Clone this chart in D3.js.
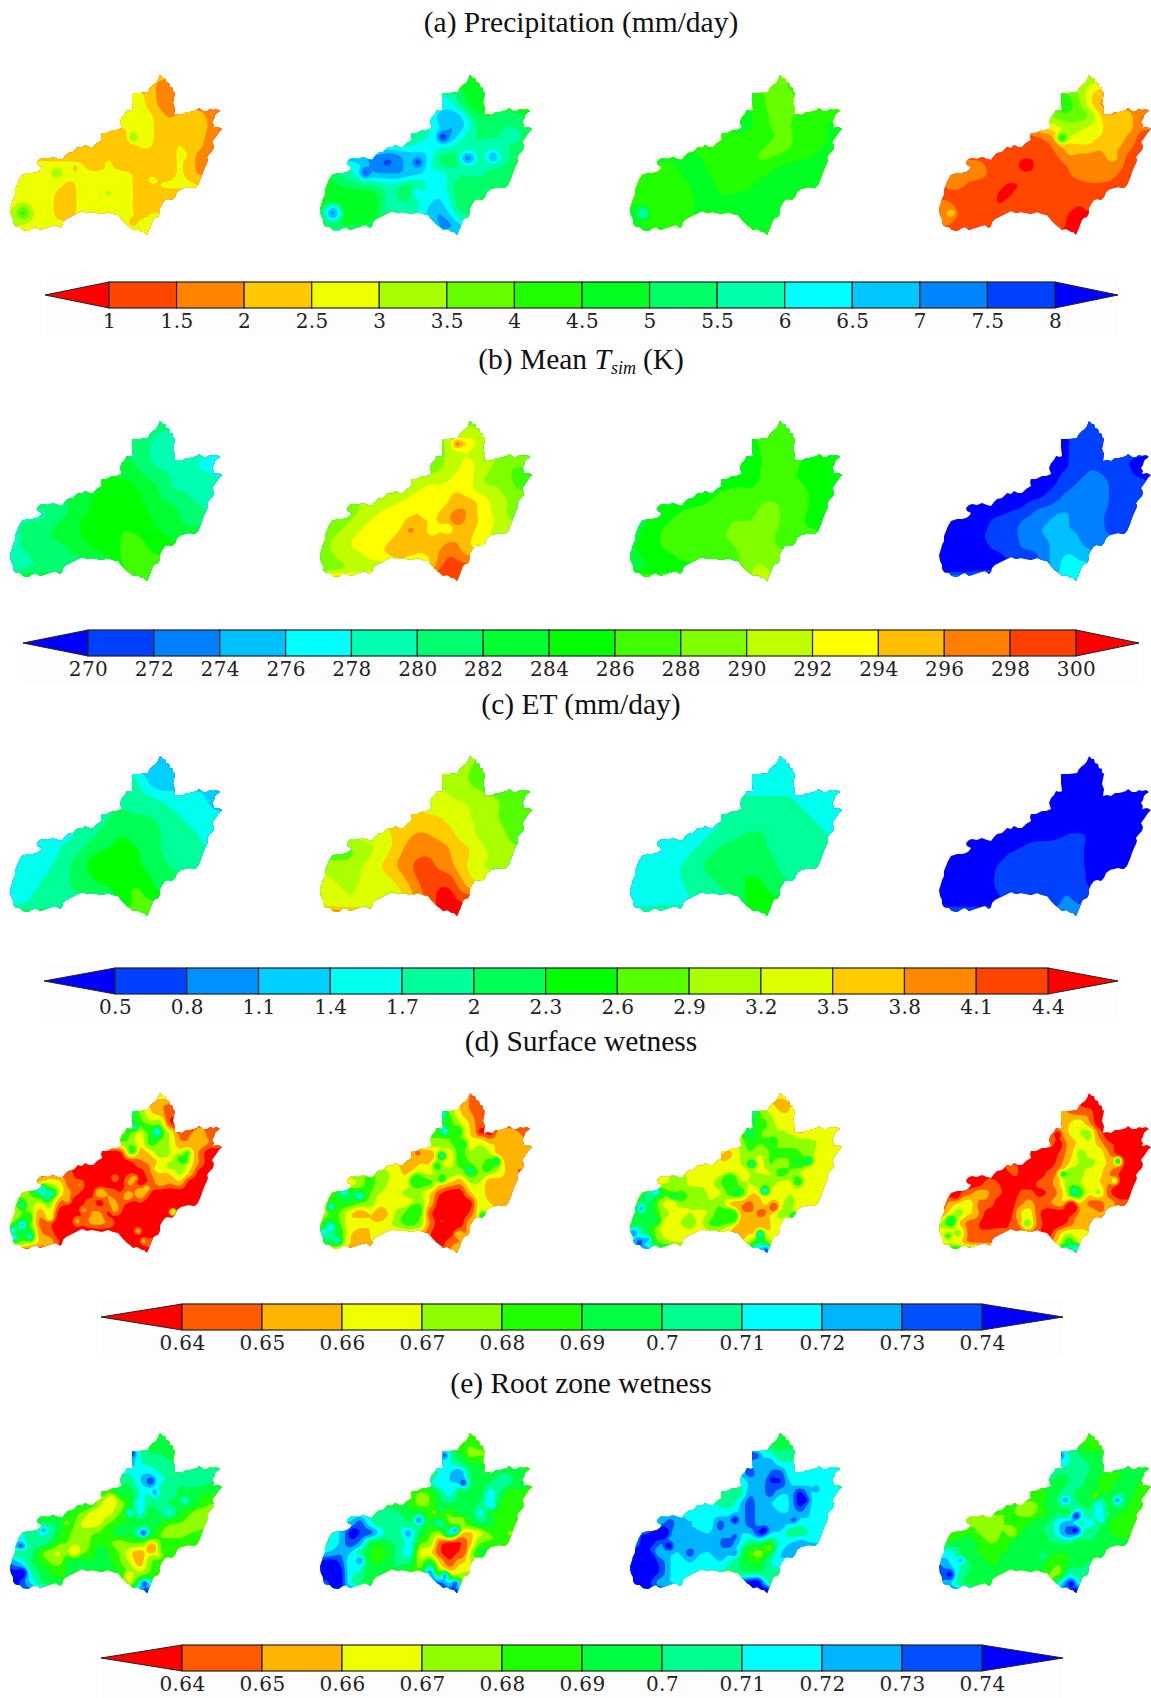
<!DOCTYPE html>
<html>
<head>
<meta charset="utf-8">
<script src="https://cdn.jsdelivr.net/npm/d3@7"></script>
<style>
body { margin: 0; background: #fff; }
.title { font-family: "Liberation Serif", serif; font-size: 29.5px; fill: #111; text-anchor: middle; }
.bar-axis text { font-family: "DejaVu Serif", serif; font-size: 20px; fill: #222; letter-spacing: 0.4px; }
</style>
</head>
<body>
<svg id="chart" width="1151" height="1698"></svg>
<script>
// Basin boundary, map units
const basinOutline = [[150,0],[153,3],[155,3],[156,7],[159,8],[160,12],[163,13],[163,16],[165,18],[164,23],[163,28],[165,33],[164,40],[168,39],[172,40],[176,37],[180,37],[184,36],[187,35],[189,33],[193,36],[197,36],[200,34],[203,35],[207,34],[210,36],[207,38],[205,40],[204,44],[202,47],[204,50],[203,53],[208,52],[212,54],[209,57],[207,60],[205,63],[202,67],[204,71],[203,75],[200,78],[197,82],[198,85],[197,88],[195,92],[193,97],[191,103],[188,110],[185,113],[183,113],[179,112],[175,113],[171,114],[167,117],[165,122],[162,125],[158,124],[155,125],[152,129],[150,133],[150,138],[148,142],[145,143],[143,145],[140,153],[137,160],[134,157],[132,157],[127,154],[123,155],[120,152],[117,150],[113,146],[108,140],[103,139],[98,137],[92,139],[87,138],[82,137],[77,138],[72,136],[68,138],[64,140],[60,142],[56,144],[53,147],[52,151],[50,153],[46,150],[42,151],[36,153],[30,155],[26,152],[23,153],[18,156],[13,155],[10,152],[8,152],[5,151],[3,148],[3,144],[1,140],[0,134],[2,128],[3,124],[5,120],[5,115],[7,110],[9,105],[12,100],[15,99],[18,98],[23,98],[27,97],[30,95],[32,92],[28,90],[27,87],[30,84],[33,83],[38,84],[43,82],[48,84],[52,85],[55,81],[58,78],[63,77],[68,72],[72,73],[75,70],[79,72],[83,72],[87,68],[92,65],[91,61],[92,58],[97,58],[103,55],[107,55],[112,53],[110,47],[112,42],[115,39],[117,35],[121,36],[123,35],[122,27],[122,18],[130,18],[138,17],[140,13],[143,10],[146,8],[148,5]];

// First grid column of each row (grid step is 10 map units)
const rowStart = [14,14,12,12,11,11,9,8,6,3,1,0,0,0,0,0,13];

// Colour bars
const precipTicks = [1,1.5,2,2.5,3,3.5,4,4.5,5,5.5,6,6.5,7,7.5,8];
const precipColors = ["#ff0000","#ff4600","#ff8500","#ffc800","#eeff00","#a8ff00","#66ff00","#20ff00","#00ff20","#00ff66","#00ffaa","#00ffff","#00c8ff","#0085ff","#0040ff","#0000ff"];
const tsimTicks = [270,272,274,276,278,280,282,284,286,288,290,292,294,296,298,300];
const tsimColors = ["#0000ff","#0040ff","#0080ff","#00bfff","#00ffff","#00ffb0","#00ff70","#00ff30","#00ff00","#40ff00","#80ff00","#bfff00","#ffff00","#ffbf00","#ff8000","#ff4000","#ff0000"];
const etTicks = [0.5,0.8,1.1,1.4,1.7,2,2.3,2.6,2.9,3.2,3.5,3.8,4.1,4.4];
const etColors = ["#0000ff","#0040ff","#0090ff","#00d0ff","#00ffee","#00ff99","#00ff55","#00ff00","#55ff00","#aaff00","#ddff00","#ffcc00","#ff8800","#ff4400","#ff0000"];
const wetTicks = [0.64,0.65,0.66,0.67,0.68,0.69,0.7,0.71,0.72,0.73,0.74];
const wetColors = ["#ff0000","#ff5a00","#ffb400","#eeff00","#90ff00","#20ff00","#00ff40","#00ff90","#00ffff","#00b4ff","#0050ff","#0000ff"];

// (a) Precipitation
const precip1 = [[2.2,2.2],[2.2,1.8,1.7],[2.7,2.7,2.3,1.8,1.7,1.8],[2.7,2.7,2.3,1.8,1.7],[2.7,2.7,2.7,2.7,2.2,1.8,2.2,2.2,2.3,1.7],[2.7,2.7,2.7,2.7,2.2,2.2,2.2,2.2,2.6,1.8],[2.2,2.2,1.8,2.7,2.7,2.7,2.2,2.2,2.2,2.2,2.2,1.8],[2.2,2.2,2.2,2.2,2.2,2.7,2.7,2.2,2.2,2.7,2.2,2.2,1.7],[2.2,2.2,2.2,2.2,2.2,2.2,2.2,2.2,2.2,2.2,2.2,2.7,2.2,1.8,1.8],[2.7,2.7,2.7,2.7,2.7,2.2,2.2,2.6,2.2,2.2,2.2,2.2,2.2,2.2,2.7,2.2,1.8],[2.7,2.7,2.7,2.7,2.7,2.7,2.7,2.7,2.7,2.7,2.7,2.7,2.2,2.2,2.2,2.2,2.7,2.2,1.8],[2.7,2.7,2.7,2.7,2.7,2.7,2.2,2.7,2.7,2.7,2.7,2.7,2.6,2.2,2.2,2.7,2.7,2.7,2.7],[2.7,2.7,2.7,2.7,2.7,2.2,2.2,2.7,2.7,2.7,2.7,2.7,2.7,2.2,2.2,2.2,2.2],[2.7,2.7,2.7,2.7,2.7,2.2,2.2,2.7,2.7,2.7,2.7,2.7,2.6,2.2,2.2,2.2],[3.2,3.3,2.7,2.7,2.7,2.2,2.2,2.7,2.7,2.7,2.7,2.7,2.7,2.2,2.6],[3.2,3,2.7,2.7,2.7,2.7,2.7,2.7,2.7,2.7,2.7,2.7,2.7,2.7,2.7],[2.7,2.7]];
const precip2 = [[4.7,4.7],[4.7,4.6,4.7],[6.2,6,5.3,4.7,4.6,4.7],[6,6.2,5.3,4.7,4.7],[5.8,7,7,6.9,5.3,5,5,5.2,5.2,5],[6,6.6,7,7,6.2,5.2,5,5.2,5.5,5.2],[5.6,5.6,6,6.2,7.5,6.3,5.7,5.3,5.4,5.4,6.2,5.5],[5.6,5.7,6.2,6.2,6.2,6.3,5.6,5.4,5.6,5.8,5.6,5.3,5.4],[7.2,7.6,7.2,6.8,6.7,6.5,5.3,5.2,5.3,6,5.8,6,6,5.5,5.3],[6,6.3,7,7.6,7.8,7,6.8,7.3,6,5.3,5.3,5.5,5.7,5.8,5.6,5.6,5.3],[5,5.5,5.7,6.5,7,7,6.8,7.3,6.8,6.5,6.2,6.3,5.8,5.7,5.6,5.6,5.3,5.3,5.3],[5,4.7,5,5.2,5.3,5.2,5.5,6,5.3,5.1,5.4,6.2,6.3,5.7,4.9,4.9,5.3,5.5,5.4],[4.8,4.7,4.7,4.6,4.7,4.7,5,6,5.2,5.2,6,6.3,6.5,6,4.9,5.2,5.6],[4.8,4.8,4.6,4.6,4.6,4.6,5,6,5.6,5.6,6,6.5,6.8,6,5.1,5.2],[5.2,5,4.7,4.6,4.6,4.7,5,6,6,6,6,7,7.2,6.6,5.4],[5,4.8,4.7,4.7,4.8,5,5.5,6,6,6,6,6,7.3,7.4,6.6],[6.6,6.6]];
const precip3 = [[3.8,3.8],[3.8,3.8,4.2],[4.5,4.2,3.8,3.8,3.8,4.2],[4.6,4.2,3.8,3.7,3.9],[4.6,4.6,4.3,4,3.7,3.9,4.2,4.3,4.4,4.4],[4.6,4.6,4.3,3.9,3.8,4,4.2,4.3,4.4,4.6],[4.4,4.4,4.5,4.4,4.5,4.2,3.9,3.9,4.2,4.4,4.4,4.5],[4.4,4.4,4.4,4.5,4.5,4.2,3.9,3.7,3.9,4.2,4.4,4.4,4.6],[4.6,4.5,4.4,4.4,4.4,4.3,4.3,3.8,3.8,4,4.2,4.4,4.4,4.6,4.7],[4.5,4.4,4.6,4.6,4.6,4.4,4.3,4.3,4,4,4.1,4.3,4.5,4.7,4.6,4.6,4.8],[4.3,4.3,4.3,4.3,4.5,4.6,4.6,4.5,4.4,4.3,4.3,4.3,4.4,4.6,4.7,4.7,4.7,4.7,4.8],[4.3,4.3,4.2,4.2,4.2,4.3,4.5,4.7,4.6,4.4,4.4,4.3,4.4,4.7,4.7,4.8,4.8,4.8,4.8],[4.4,4.3,4.2,4.2,4.2,4.3,4.4,4.7,4.6,4.5,4.5,4.6,4.6,4.7,4.8,4.9,4.9],[4.6,4.3,4.2,4.2,4.2,4.3,4.4,4.6,4.7,4.6,4.6,4.7,4.8,4.7,4.8,4.9],[4.8,4.4,4.2,4.2,4.2,4.3,4.4,4.6,4.7,4.7,4.7,4.8,4.9,4.9,4.8],[4.6,4.4,4.3,4.3,4.3,4.3,4.4,4.6,4.7,4.7,4.7,4.8,4.9,4.9,4.9],[4.9,4.9]];
const precip4 = [[3,3.6],[3.2,3,2.7],[4.3,4.2,3.5,2.7,2,2.2],[4.3,4.2,3.7,2.6,1.8],[3.2,4,4,4,3.8,2.7,1.8,2.2,2.2,1.7],[3,3,3.3,3.3,3,2.7,2.3,2.2,2.3,1.7],[1.2,1.5,1.8,2.4,3.4,2.7,2.7,2.7,2.2,2.2,2,1.3],[1.2,1.2,1.2,1.4,1.8,2.3,2.5,2.7,2,2.2,2.2,1.7,1.3],[1.2,1.2,1.2,1.2,1.2,1.2,1.6,2.2,1.8,1.8,1.8,2.2,1.8,1.3,1.3],[1.8,1.8,1.3,1.2,1.2,0.9,0.9,1.2,1.2,1.2,1.5,1.8,1.8,1.8,1.8,1.7,1.3],[1.8,1.8,1.8,1.8,1.5,1.2,1.2,1.2,1.2,1.2,1.2,1.3,1.5,1.7,1.8,1.8,1.8,1.4,1.3],[1.2,1.8,1.8,1.3,1.2,1.2,1.1,0.9,0.9,1.2,1.2,1.2,1.2,1.2,1.3,1.4,1.4,1.3,1.3],[1.3,1.2,1.2,1.2,1.2,1.2,0.9,0.9,1.2,1.2,1.2,1.2,1.2,1.2,1.2,1.3,1.3],[1.8,1.7,1.2,1.2,1.2,1.2,0.9,1.2,1.2,1.2,1.2,1.2,1.2,1.2,0.9,1.2],[1.8,2.2,1.2,1.2,1.2,1.2,1.2,1.2,1.2,1.2,1.2,1.2,1.2,0.9,0.9],[1.8,1.5,1.2,1.2,1.2,1.2,1.2,1.2,1.2,1.2,1.2,1.2,1.2,0.9,0.9],[0.9,0.9]];

// (b) Mean Tsim
const tsim1 = [[281,281],[281,280,280],[282,281,280,279,279,280],[282,281,280,279,279],[283,282,281,280,279,279,279,278,278,277],[284,283,282,281,280,280,279,278,278,278],[284,284,284,284,283,282,282,280,279,279,279,278],[283,284,285,285,285,284,283,282,280,280,280,279,279],[282,283,284,285,285,285,286,284,283,282,282,281,280,280,279],[279,280,281,282,283,284,285,285,285,286,285,284,283,283,282,281,280],[280,280,280,281,282,283,284,285,285,285,285,286,285,284,284,283,282,281,281],[279,280,281,281,282,283,283,284,285,285,285,286,286,285,284,284,283,283,283],[279,280,281,282,282,282,283,284,284,285,285,286,287,287,285,285,284],[279,280,280,281,281,281,282,283,284,284,285,286,287,287,286,285],[279,279,280,280,281,281,281,281,282,282,284,286,287,288,287],[279,279,280,280,280,281,281,281,281,282,283,285,287,288,288],[288,288]];
const tsim2 = [[289,289],[291,291,290],[289,291,292,293,292,291],[289,291,292,292,291],[289,289,291,292,292,292,291,289,288,288],[289,290,291,292,293,291,290,288,288,288],[290,291,292,291,292,294,293,290,289,290,288,287],[291,292,292,293,293,294,294,292,291,291,290,289,288],[290,291,292,292,293,293,293,294,295,295,294,292,291,290,289],[289,290,291,292,293,293,293,294,294,294,295,297,296,293,292,291,289],[288,289,290,291,292,293,293,293,295,295,294,294,295,296,295,294,293,291,290],[288,289,290,291,292,293,293,293,294,296,296,294,295,294,295,295,293,292,291],[289,290,291,292,293,293,293,294,295,295,295,295,295,296,296,294,292],[289,290,291,292,292,293,294,295,295,295,294,295,296,298,296,294],[288,289,290,291,291,292,292,293,294,293,293,293,297,299,298],[288,288,289,289,290,290,290,292,292,292,292,295,299,300,299],[300,300]];
const tsim3 = [[287,287],[287,286,286],[285,286,288,288,288,287],[285,286,287,288,287],[285,285,286,286,287,287,286,285,285,284],[285,285,286,287,287,286,286,285,285,285],[285,285,285,285,286,287,287,286,286,286,285,284],[285,286,286,287,286,287,287,287,287,286,286,285,285],[284,285,286,287,288,288,287,288,288,288,287,287,286,285,285],[284,285,286,287,287,287,288,288,288,288,288,289,288,287,286,286,285],[283,284,285,286,287,287,288,288,288,288,288,288,288,289,288,287,286,286,285],[283,284,285,286,287,287,288,288,288,288,288,288,288,288,288,288,287,286,286],[284,284,285,286,287,288,288,288,288,288,288,288,289,289,288,288,287],[284,284,285,286,286,287,287,288,288,288,288,288,289,290,288,288],[283,284,284,285,285,286,286,287,287,287,287,288,289,290,289],[283,283,284,284,285,285,285,286,286,286,287,288,290,291,290],[290,290]];
const tsim4 = [[270,270],[270,270,270],[269,270,271,271,271,271],[269,270,271,272,271],[269,269,270,271,272,271,271,270,270,269],[269,270,270,271,272,272,271,271,270,270],[268,268,269,270,271,272,273,273,272,271,270,270],[269,269,269,270,271,272,273,274,273,272,271,271,270],[268,269,269,270,270,271,272,274,274,274,273,272,271,271,270],[268,268,269,269,270,270,271,273,273,274,274,274,273,272,272,271,270],[268,268,269,269,270,271,271,272,273,273,274,275,274,273,273,272,272,271,271],[268,268,269,269,270,270,271,272,272,273,274,275,274,274,274,273,272,272,272],[269,269,269,269,270,270,271,271,272,273,273,274,275,275,274,273,272],[268,269,269,269,269,270,270,271,272,272,272,274,275,276,275,274],[268,268,269,269,269,269,269,270,270,270,272,274,276,277,276],[268,268,268,268,269,269,269,270,270,270,271,273,276,277,277],[277,277]];

// (c) ET
const et1 = [[1.2,1.2],[1.2,1.2,1.3],[1.8,1.6,1.2,1.2,1.2,1.3],[1.9,1.7,1.4,1.2,1.3],[2,1.9,1.8,1.7,1.6,1.5,1.5,1.5,1.5,1.3],[2,2,1.9,1.9,1.8,1.7,1.6,1.5,1.5,1.4],[1.9,2,2,2,2,2,1.9,1.8,1.7,1.6,1.5,1.4],[1.8,1.9,2.1,2.2,2.2,2.2,2.1,2,1.9,1.8,1.7,1.6,1.5],[1.6,1.7,1.9,2.1,2.2,2.3,2.3,2.2,2.2,2,1.9,1.8,1.8,1.7,1.6],[1.5,1.6,1.7,1.8,1.9,2.1,2.2,2.3,2.4,2.3,2.3,2.2,2,1.9,1.9,1.8,1.7],[1.6,1.6,1.6,1.6,1.7,1.9,2.1,2.3,2.4,2.4,2.4,2.4,2.3,2.2,2,2,1.9,1.9,1.8],[1.5,1.6,1.6,1.6,1.7,1.8,2,2.2,2.4,2.4,2.4,2.5,2.5,2.3,2.2,2,2,2,2],[1.5,1.6,1.6,1.7,1.7,1.8,2,2.2,2.3,2.4,2.4,2.5,2.6,2.5,2.3,2.1,2],[1.5,1.6,1.6,1.7,1.8,1.9,2,2.1,2.2,2.3,2.3,2.5,2.6,2.6,2.4,2.1],[1.6,1.6,1.7,1.8,1.8,1.9,1.9,2,2,2.1,2.2,2.4,2.6,2.7,2.5],[1.6,1.6,1.7,1.7,1.8,1.8,1.9,1.9,2,2,2.1,2.3,2.6,2.7,2.7],[2.7,2.7]];
const et2 = [[2.9,2.9],[3,2.9,2.9],[3.2,3,2.9,2.9,2.8,2.8],[3.2,3.1,3,2.9,2.8],[3.3,3.3,3.2,3.1,3.1,3,2.9,2.9,2.8,2.8],[3.4,3.4,3.3,3.3,3.2,3.1,3,2.9,2.8,2.8],[3.6,3.6,3.5,3.5,3.4,3.3,3.2,3.1,2.9,2.9,2.8,2.8],[3.5,3.6,3.7,3.7,3.6,3.5,3.4,3.3,3.1,3,2.9,2.9,2.8],[3.4,3.5,3.6,3.8,3.9,3.8,3.7,3.6,3.4,3.3,3.1,3,2.9,2.9,2.8],[2.9,2.9,3.1,3.3,3.4,3.7,3.9,4,4,3.9,3.8,3.6,3.5,3.3,3.1,3,2.9],[2.8,2.9,2.8,3,3.2,3.3,3.6,3.8,4,4.1,4.1,4,3.8,3.7,3.5,3.3,3.2,3.1,3],[3.1,3,2.9,3,3.2,3.3,3.5,3.7,3.9,4.1,4.2,4.2,4,3.9,3.6,3.4,3.2,3.1,3.1],[3.3,3.2,3.1,3.1,3.2,3.3,3.4,3.5,3.7,4,4.2,4.3,4.2,4.2,3.8,3.5,3.3],[3.3,3.3,3.2,3.2,3.2,3.3,3.3,3.4,3.5,3.8,4.1,4.3,4.4,4.4,4,3.6],[3.3,3.3,3.2,3.2,3.2,3.2,3.2,3.3,3.4,3.7,4,4.3,4.5,4.6,4.2],[3.3,3.3,3.2,3.2,3.2,3.2,3.2,3.3,3.3,3.5,3.8,4.2,4.5,4.6,4.5],[4.6,4.6]];
const et3 = [[1.5,1.5],[1.5,1.5,1.6],[1.6,1.6,1.5,1.5,1.5,1.6],[1.6,1.6,1.6,1.6,1.6],[1.7,1.7,1.7,1.7,1.7,1.7,1.6,1.6,1.6,1.6],[1.8,1.8,1.8,1.8,1.8,1.8,1.7,1.7,1.6,1.6],[1.7,1.8,1.9,1.9,1.9,1.9,1.8,1.8,1.7,1.7,1.7,1.6],[1.6,1.7,1.8,1.9,1.9,2,2,1.9,1.8,1.8,1.7,1.7,1.7],[1.5,1.6,1.7,1.8,1.9,2,2.1,2,2,1.9,1.9,1.8,1.8,1.7,1.7],[1.4,1.5,1.5,1.6,1.7,1.9,2,2.1,2.1,2.1,2,2,1.9,1.8,1.8,1.8,1.7],[1.5,1.5,1.5,1.5,1.6,1.7,1.9,2,2.1,2.2,2.2,2.2,2.1,2,2,1.9,1.9,1.8,1.8],[1.5,1.5,1.5,1.5,1.6,1.7,1.8,2,2.1,2.2,2.2,2.3,2.2,2.1,2,2,1.9,1.9,1.9],[1.5,1.5,1.5,1.5,1.6,1.7,1.8,1.9,2,2.1,2.2,2.3,2.3,2.3,2.1,2,2],[1.5,1.5,1.5,1.5,1.6,1.6,1.8,1.9,1.9,2,2.1,2.2,2.4,2.4,2.2,2],[1.5,1.5,1.5,1.6,1.6,1.6,1.7,1.8,1.8,1.9,2,2.2,2.4,2.5,2.3],[1.5,1.5,1.5,1.6,1.6,1.6,1.7,1.7,1.8,1.8,1.9,2.1,2.4,2.5,2.5],[2.5,2.5]];
const et4 = [[0.4,0.4],[0.4,0.4,0.4],[0.4,0.4,0.4,0.4,0.4,0.4],[0.4,0.4,0.4,0.4,0.4],[0.4,0.4,0.4,0.4,0.4,0.4,0.4,0.4,0.4,0.4],[0.4,0.4,0.4,0.4,0.4,0.4,0.4,0.4,0.4,0.4],[0.4,0.4,0.4,0.4,0.4,0.4,0.4,0.4,0.4,0.4,0.4,0.4],[0.4,0.4,0.4,0.4,0.4,0.4,0.4,0.45,0.4,0.4,0.4,0.4,0.4],[0.4,0.4,0.4,0.4,0.4,0.4,0.45,0.55,0.55,0.5,0.4,0.4,0.4,0.4,0.4],[0.4,0.4,0.4,0.4,0.4,0.45,0.55,0.6,0.6,0.6,0.6,0.55,0.45,0.4,0.4,0.4,0.4],[0.4,0.4,0.4,0.4,0.4,0.4,0.55,0.6,0.65,0.65,0.65,0.6,0.6,0.55,0.45,0.4,0.4,0.4,0.4],[0.4,0.4,0.4,0.4,0.4,0.4,0.55,0.6,0.65,0.7,0.7,0.7,0.7,0.6,0.55,0.45,0.4,0.4,0.4],[0.4,0.4,0.4,0.4,0.4,0.45,0.55,0.6,0.65,0.7,0.7,0.7,0.7,0.7,0.6,0.45,0.4],[0.4,0.4,0.4,0.4,0.4,0.45,0.55,0.6,0.65,0.65,0.7,0.7,0.75,0.75,0.6,0.45],[0.4,0.4,0.4,0.4,0.4,0.4,0.5,0.55,0.55,0.6,0.65,0.7,0.75,0.85,0.6],[0.4,0.4,0.4,0.4,0.4,0.4,0.45,0.5,0.5,0.55,0.6,0.7,0.8,0.9,0.85],[0.9,0.9]];

// (d) Surface wetness
const surf1 = [[0.66,0.675],[0.66,0.65,0.65],[0.69,0.68,0.66,0.655,0.64,0.65],[0.7,0.685,0.67,0.68,0.635],[0.69,0.68,0.66,0.68,0.69,0.67,0.645,0.65,0.655,0.645],[0.68,0.68,0.66,0.69,0.675,0.67,0.65,0.65,0.66,0.65],[0.63,0.63,0.63,0.68,0.65,0.66,0.68,0.67,0.665,0.67,0.645,0.63],[0.63,0.63,0.63,0.63,0.63,0.65,0.65,0.66,0.665,0.68,0.665,0.65,0.63],[0.645,0.63,0.63,0.63,0.63,0.63,0.64,0.63,0.65,0.66,0.66,0.675,0.66,0.63,0.63],[0.655,0.67,0.665,0.64,0.645,0.63,0.63,0.63,0.63,0.66,0.63,0.64,0.66,0.65,0.66,0.63,0.63],[0.68,0.68,0.7,0.69,0.67,0.65,0.64,0.63,0.65,0.65,0.64,0.63,0.67,0.64,0.63,0.63,0.63,0.63,0.63],[0.675,0.68,0.675,0.665,0.68,0.645,0.63,0.63,0.65,0.63,0.655,0.65,0.63,0.64,0.63,0.63,0.63,0.63,0.63],[0.67,0.675,0.675,0.65,0.67,0.63,0.63,0.63,0.65,0.655,0.63,0.64,0.63,0.63,0.63,0.63,0.63],[0.68,0.67,0.675,0.645,0.64,0.63,0.63,0.64,0.65,0.655,0.65,0.63,0.63,0.63,0.63,0.63],[0.7,0.69,0.7,0.65,0.645,0.63,0.64,0.63,0.63,0.63,0.63,0.63,0.63,0.63,0.63],[0.69,0.68,0.67,0.66,0.66,0.64,0.63,0.63,0.63,0.63,0.63,0.63,0.63,0.63,0.65],[0.63,0.63]];
const surf2 = [[0.65,0.65],[0.66,0.65,0.645],[0.7,0.68,0.66,0.65,0.645,0.66],[0.7,0.685,0.67,0.66,0.64],[0.68,0.69,0.68,0.67,0.66,0.65,0.63,0.66,0.66,0.65],[0.68,0.67,0.68,0.69,0.66,0.67,0.66,0.66,0.65,0.65],[0.66,0.65,0.65,0.67,0.66,0.69,0.67,0.68,0.67,0.65,0.65,0.65],[0.66,0.65,0.66,0.66,0.67,0.66,0.69,0.68,0.67,0.69,0.67,0.65,0.65],[0.68,0.67,0.66,0.66,0.67,0.665,0.675,0.68,0.67,0.69,0.68,0.67,0.67,0.65,0.65],[0.66,0.67,0.69,0.67,0.67,0.66,0.66,0.68,0.69,0.66,0.66,0.65,0.67,0.67,0.65,0.65,0.65],[0.68,0.7,0.7,0.69,0.68,0.67,0.67,0.67,0.68,0.67,0.66,0.64,0.63,0.63,0.66,0.67,0.65,0.65,0.65],[0.67,0.68,0.69,0.69,0.68,0.68,0.66,0.67,0.66,0.66,0.68,0.66,0.63,0.63,0.63,0.63,0.67,0.66,0.65],[0.66,0.68,0.68,0.66,0.65,0.66,0.66,0.66,0.68,0.68,0.68,0.64,0.63,0.63,0.63,0.64,0.67],[0.68,0.7,0.68,0.66,0.67,0.66,0.66,0.67,0.68,0.69,0.68,0.65,0.63,0.63,0.63,0.66],[0.69,0.71,0.69,0.66,0.65,0.66,0.67,0.66,0.66,0.66,0.66,0.64,0.63,0.63,0.65],[0.7,0.7,0.68,0.66,0.65,0.66,0.66,0.66,0.66,0.66,0.66,0.64,0.63,0.65,0.65],[0.65,0.66]];
const surf3 = [[0.665,0.665],[0.66,0.655,0.66],[0.69,0.68,0.67,0.66,0.66,0.665],[0.7,0.68,0.675,0.665,0.66],[0.68,0.7,0.68,0.675,0.67,0.68,0.655,0.665,0.665,0.66],[0.67,0.69,0.68,0.685,0.67,0.68,0.68,0.675,0.665,0.67],[0.665,0.655,0.67,0.68,0.67,0.68,0.69,0.68,0.68,0.67,0.67,0.66],[0.66,0.66,0.665,0.67,0.675,0.66,0.685,0.67,0.68,0.7,0.665,0.67,0.665],[0.67,0.665,0.665,0.665,0.665,0.665,0.67,0.67,0.665,0.69,0.68,0.665,0.66,0.665,0.665],[0.665,0.67,0.68,0.665,0.665,0.665,0.68,0.69,0.67,0.67,0.68,0.68,0.665,0.665,0.67,0.66,0.665],[0.69,0.71,0.7,0.68,0.665,0.68,0.68,0.665,0.665,0.69,0.7,0.66,0.66,0.66,0.66,0.67,0.665,0.665,0.665],[0.7,0.7,0.7,0.67,0.66,0.675,0.67,0.68,0.67,0.68,0.655,0.65,0.645,0.66,0.665,0.665,0.68,0.66,0.66],[0.69,0.69,0.7,0.68,0.67,0.665,0.67,0.665,0.67,0.69,0.66,0.65,0.65,0.65,0.66,0.68,0.665],[0.69,0.7,0.69,0.665,0.665,0.67,0.68,0.665,0.685,0.69,0.665,0.655,0.66,0.65,0.66,0.665],[0.71,0.71,0.69,0.67,0.665,0.665,0.665,0.665,0.665,0.665,0.66,0.65,0.66,0.66,0.66],[0.72,0.73,0.7,0.675,0.67,0.665,0.665,0.665,0.665,0.665,0.66,0.66,0.67,0.71,0.67],[0.74,0.72]];
const surf4 = [[0.63,0.63],[0.64,0.63,0.63],[0.66,0.65,0.645,0.65,0.63,0.64],[0.65,0.66,0.67,0.65,0.63],[0.64,0.66,0.66,0.67,0.68,0.645,0.63,0.63,0.63,0.63],[0.65,0.63,0.655,0.66,0.67,0.655,0.64,0.64,0.63,0.63],[0.63,0.63,0.63,0.64,0.655,0.67,0.66,0.67,0.65,0.63,0.63,0.63],[0.64,0.635,0.63,0.63,0.645,0.66,0.67,0.68,0.665,0.66,0.65,0.63,0.63],[0.63,0.645,0.64,0.63,0.63,0.645,0.65,0.67,0.68,0.66,0.665,0.65,0.64,0.63,0.63],[0.63,0.63,0.65,0.64,0.63,0.64,0.63,0.645,0.645,0.66,0.68,0.67,0.66,0.66,0.65,0.63,0.63],[0.63,0.64,0.645,0.66,0.65,0.645,0.63,0.64,0.645,0.635,0.64,0.65,0.675,0.7,0.66,0.68,0.64,0.63,0.63],[0.63,0.655,0.66,0.67,0.645,0.65,0.63,0.63,0.645,0.655,0.645,0.65,0.66,0.67,0.66,0.645,0.64,0.66,0.645],[0.645,0.66,0.68,0.66,0.65,0.63,0.64,0.63,0.66,0.67,0.64,0.63,0.63,0.64,0.65,0.66,0.65],[0.67,0.68,0.655,0.645,0.64,0.63,0.63,0.64,0.65,0.67,0.645,0.63,0.63,0.64,0.66,0.66],[0.67,0.66,0.68,0.645,0.64,0.645,0.65,0.64,0.64,0.65,0.64,0.63,0.66,0.67,0.66],[0.66,0.665,0.66,0.645,0.645,0.645,0.64,0.645,0.645,0.645,0.645,0.65,0.66,0.7,0.66],[0.72,0.7]];

// (e) Root zone wetness
const root1 = [[0.69,0.69],[0.69,0.7,0.69],[0.73,0.71,0.7,0.7,0.7,0.69],[0.73,0.71,0.705,0.7,0.7],[0.71,0.71,0.72,0.72,0.71,0.71,0.7,0.71,0.71,0.71],[0.7,0.7,0.72,0.73,0.71,0.71,0.7,0.71,0.705,0.7],[0.69,0.68,0.7,0.69,0.71,0.71,0.705,0.71,0.695,0.69,0.69,0.69],[0.695,0.67,0.665,0.67,0.69,0.72,0.7,0.71,0.695,0.7,0.7,0.69,0.68],[0.69,0.68,0.67,0.665,0.665,0.68,0.69,0.72,0.69,0.7,0.72,0.69,0.68,0.67,0.675],[0.7,0.7,0.7,0.69,0.67,0.66,0.675,0.68,0.69,0.69,0.69,0.7,0.69,0.68,0.68,0.675,0.68],[0.71,0.71,0.71,0.71,0.69,0.68,0.67,0.68,0.68,0.69,0.7,0.7,0.72,0.7,0.68,0.67,0.67,0.68,0.68],[0.71,0.72,0.7,0.71,0.7,0.68,0.68,0.67,0.68,0.69,0.68,0.67,0.68,0.68,0.67,0.68,0.69,0.69,0.69],[0.71,0.7,0.71,0.68,0.67,0.665,0.69,0.68,0.68,0.7,0.69,0.68,0.66,0.65,0.67,0.68,0.69],[0.73,0.72,0.7,0.69,0.68,0.675,0.7,0.7,0.69,0.7,0.69,0.68,0.67,0.65,0.68,0.69],[0.75,0.74,0.71,0.7,0.69,0.69,0.69,0.7,0.7,0.7,0.7,0.69,0.68,0.67,0.68],[0.75,0.74,0.72,0.7,0.69,0.69,0.69,0.7,0.7,0.7,0.7,0.68,0.66,0.7,0.71],[0.74,0.74]];
const root2 = [[0.69,0.69],[0.68,0.68,0.69],[0.72,0.71,0.69,0.68,0.675,0.68],[0.72,0.71,0.7,0.69,0.69],[0.7,0.71,0.72,0.735,0.7,0.695,0.69,0.7,0.7,0.69],[0.71,0.72,0.72,0.72,0.7,0.69,0.7,0.71,0.705,0.69],[0.69,0.675,0.68,0.7,0.72,0.69,0.7,0.69,0.72,0.7,0.68,0.69],[0.69,0.69,0.67,0.68,0.7,0.7,0.7,0.69,0.7,0.72,0.69,0.68,0.69],[0.71,0.71,0.7,0.69,0.7,0.68,0.67,0.68,0.7,0.69,0.72,0.69,0.68,0.69,0.69],[0.72,0.74,0.71,0.7,0.71,0.71,0.7,0.7,0.69,0.72,0.67,0.68,0.69,0.7,0.7,0.68,0.68],[0.71,0.72,0.74,0.74,0.74,0.72,0.7,0.71,0.72,0.7,0.68,0.67,0.73,0.66,0.655,0.67,0.68,0.68,0.68],[0.7,0.71,0.72,0.74,0.73,0.69,0.69,0.7,0.7,0.72,0.68,0.68,0.64,0.63,0.63,0.655,0.68,0.68,0.68],[0.72,0.72,0.73,0.72,0.7,0.69,0.68,0.69,0.71,0.72,0.66,0.66,0.64,0.63,0.65,0.67,0.7],[0.745,0.75,0.74,0.71,0.72,0.69,0.69,0.7,0.7,0.7,0.67,0.7,0.66,0.64,0.66,0.67],[0.75,0.75,0.75,0.71,0.71,0.69,0.69,0.7,0.7,0.69,0.68,0.74,0.67,0.66,0.67],[0.73,0.74,0.75,0.71,0.7,0.69,0.7,0.7,0.7,0.69,0.71,0.73,0.74,0.72,0.68],[0.74,0.75]];
const root3 = [[0.69,0.69],[0.7,0.69,0.69],[0.74,0.72,0.71,0.7,0.71,0.71],[0.73,0.72,0.73,0.71,0.71],[0.72,0.74,0.72,0.73,0.74,0.71,0.71,0.71,0.72,0.71],[0.71,0.72,0.73,0.73,0.745,0.72,0.71,0.72,0.72,0.71],[0.7,0.7,0.7,0.73,0.72,0.74,0.72,0.72,0.75,0.72,0.71,0.71],[0.71,0.71,0.7,0.72,0.74,0.72,0.72,0.71,0.72,0.75,0.72,0.71,0.71],[0.72,0.72,0.72,0.71,0.72,0.72,0.74,0.72,0.73,0.72,0.72,0.73,0.72,0.71,0.71],[0.72,0.74,0.72,0.72,0.72,0.71,0.74,0.72,0.72,0.74,0.72,0.72,0.73,0.72,0.71,0.72,0.71],[0.74,0.74,0.75,0.73,0.72,0.72,0.72,0.72,0.73,0.72,0.72,0.72,0.75,0.72,0.72,0.7,0.7,0.71,0.71],[0.72,0.74,0.75,0.73,0.72,0.72,0.72,0.73,0.72,0.73,0.74,0.72,0.7,0.7,0.69,0.71,0.72,0.73,0.72],[0.74,0.75,0.73,0.72,0.72,0.72,0.74,0.72,0.72,0.73,0.72,0.7,0.68,0.67,0.7,0.72,0.73],[0.75,0.76,0.75,0.74,0.72,0.71,0.72,0.71,0.71,0.72,0.71,0.7,0.69,0.69,0.71,0.72],[0.76,0.76,0.75,0.74,0.72,0.71,0.71,0.71,0.71,0.71,0.7,0.7,0.7,0.7,0.7],[0.75,0.75,0.74,0.72,0.72,0.71,0.71,0.71,0.71,0.71,0.72,0.74,0.75,0.74,0.7],[0.75,0.76]];
const root4 = [[0.68,0.68],[0.69,0.68,0.69],[0.72,0.71,0.7,0.69,0.69,0.685],[0.72,0.71,0.705,0.7,0.7],[0.71,0.7,0.7,0.71,0.7,0.69,0.69,0.695,0.7,0.69],[0.7,0.69,0.7,0.71,0.69,0.69,0.68,0.7,0.7,0.69],[0.685,0.68,0.69,0.7,0.71,0.69,0.7,0.69,0.69,0.7,0.7,0.68],[0.68,0.68,0.68,0.7,0.7,0.71,0.7,0.69,0.72,0.69,0.71,0.69,0.68],[0.68,0.68,0.68,0.68,0.68,0.69,0.7,0.69,0.72,0.7,0.72,0.7,0.69,0.685,0.68],[0.675,0.68,0.68,0.68,0.68,0.68,0.69,0.7,0.7,0.72,0.73,0.7,0.72,0.7,0.69,0.68,0.685],[0.68,0.68,0.69,0.68,0.67,0.68,0.68,0.69,0.7,0.7,0.7,0.72,0.74,0.72,0.7,0.7,0.69,0.69,0.69],[0.7,0.69,0.7,0.7,0.69,0.68,0.68,0.69,0.7,0.7,0.69,0.7,0.7,0.7,0.69,0.7,0.7,0.69,0.69],[0.71,0.72,0.7,0.69,0.69,0.68,0.69,0.69,0.7,0.7,0.69,0.69,0.69,0.69,0.7,0.7,0.7],[0.73,0.72,0.71,0.7,0.7,0.69,0.69,0.7,0.7,0.7,0.69,0.69,0.68,0.69,0.7,0.7],[0.74,0.73,0.71,0.7,0.69,0.69,0.69,0.7,0.7,0.7,0.7,0.68,0.67,0.71,0.7],[0.73,0.72,0.7,0.69,0.69,0.69,0.7,0.7,0.7,0.7,0.69,0.67,0.71,0.74,0.71],[0.74,0.75]];

// Small local patches: x, y, value, radius in map units
const precipSpots1 = [[13,138,3.2,11],[13,138,3.7,6],[13,138,4.3,3],[47,98,3.3,5],[123,62,3.6,4],[98,118,3.3,3],[98,88,2.7,3],[123,147,2.2,3],[65,94,2.2,2],[173,80,3,3],[20,100,3.2,2],[142,105,2.7,4]];
const precipSpots2 = [[13,138,6.2,9],[13,138,7.2,4],[123,62,7.2,6],[123,62,8.2,3],[148,83,6.3,8],[148,83,7.3,4],[173,82,6.2,7],[173,82,7,4],[98,87,8.2,3],[45,98,7.7,4],[97,118,6.5,4],[123,101,6.4,3],[187,60,6.2,3]];
const precipSpots3 = [[13,138,5.7,6],[13,138,6.2,2]];
const precipSpots4 = [[13,138,2.7,3],[123,63,3.6,5],[123,63,4.8,3],[174,82,2.7,3],[188,53,2.7,2],[88,90,0.9,7],[66,95,0.9,3]];
const tsimSpots2 = [[108,92,293,6],[113,108,293,6],[127,108,293,5],[137,97,298,6],[90,109,297,3],[137,23,297,4],[144,23,296,2]];
const surfSpots1 = [[57,100,0.655,4],[70,92,0.655,3],[90,100,0.66,4],[105,85,0.655,3],[118,103,0.655,5],[128,138,0.665,3],[133,148,0.67,2],[105,117,0.655,4],[67,128,0.655,4],[83,128,0.66,3],[73,117,0.655,3],[58,108,0.66,3],[190,38,0.655,4],[137,35,0.69,4],[145,43,0.7,3],[123,57,0.69,4],[160,73,0.69,2],[170,65,0.69,3],[177,60,0.7,2],[148,75,0.68,2],[137,95,0.69,2],[125,85,0.68,2],[17,125,0.69,6],[10,132,0.7,4],[33,95,0.71,3],[30,115,0.66,3],[40,125,0.685,2],[12,112,0.75,2],[3,137,0.75,2],[5,145,0.75,2],[20,144,0.75,2],[13,132,0.75,2],[24,95,0.75,2],[37,105,0.75,2],[32,98,0.75,2],[122,17,0.75,2],[125,35,0.75,2],[147,38,0.75,2],[175,67,0.72,2],[163,119,0.75,2],[42,100,0.75,2]];
const surfSpots2 = [[97,88,0.69,7],[117,73,0.69,4],[168,74,0.69,5],[97,59,0.645,3],[108,66,0.65,3],[195,48,0.65,4],[190,98,0.65,4],[61,121,0.655,6],[32,134,0.665,5],[95,118,0.69,7],[138,38,0.69,4],[144,51,0.7,3],[160,39,0.63,3],[155,11,0.64,4],[122,94,0.655,3],[138,141,0.675,2],[122,128,0.645,3],[11,114,0.75,2],[3,139,0.75,2],[11,134,0.73,3],[18,148,0.75,2],[40,103,0.75,2],[122,21,0.75,2],[125,38,0.75,2],[122,63,0.75,2],[122,86,0.74,2],[150,77,0.73,2],[177,68,0.73,2],[163,123,0.75,2],[24,98,0.75,2]];
const surfSpots3 = [[100,88,0.69,7],[168,88,0.69,5],[100,123,0.69,8],[51,103,0.69,5],[187,48,0.67,7],[95,64,0.65,3],[144,48,0.7,3],[133,31,0.69,3],[133,119,0.645,4],[144,114,0.64,4],[114,128,0.65,3],[127,141,0.65,3],[160,39,0.655,2],[193,88,0.665,3],[26,128,0.695,5],[11,116,0.75,2],[4,139,0.75,2],[18,146,0.75,2],[43,103,0.74,2],[26,98,0.75,2],[125,19,0.75,2],[122,71,0.74,2],[135,98,0.75,3],[179,68,0.74,2],[130,141,0.75,3],[137,156,0.75,2],[164,123,0.75,2],[10,148,0.75,2]];
const surfSpots4 = [[34,121,0.66,4],[12,128,0.7,4],[67,114,0.63,5],[132,114,0.63,6],[88,131,0.68,4],[132,78,0.69,2],[143,61,0.68,3],[119,41,0.63,3],[160,21,0.63,4],[127,24,0.65,3],[198,44,0.63,4],[67,84,0.63,4],[34,84,0.63,4],[17,103,0.63,3],[176,88,0.68,3],[116,131,0.63,4],[138,154,0.75,2],[135,98,0.74,2],[179,68,0.74,2],[124,81,0.72,2],[9,143,0.72,2]];
const rootSpots1 = [[101,67,0.665,6],[86,85,0.66,7],[64,118,0.665,6],[142,115,0.65,5],[149,123,0.645,2],[119,142,0.65,3],[12,140,0.75,5],[8,113,0.73,3],[201,82,0.67,3],[56,90,0.67,3],[34,87,0.7,3],[123,103,0.69,3],[141,48,0.75,3],[123,20,0.75,2],[134,100,0.75,3],[119,80,0.74,2],[175,67,0.74,2],[134,150,0.75,3],[138,158,0.75,2],[145,60,0.74,2],[12,113,0.75,2],[34,97,0.74,2]];
const rootSpots2 = [[103,67,0.675,4],[140,87,0.67,4],[140,117,0.64,7],[144,127,0.655,3],[33,100,0.75,4],[10,133,0.75,6],[40,127,0.74,3],[159,100,0.66,3],[151,20,0.675,4],[144,50,0.75,3],[125,22,0.75,2],[136,97,0.75,3],[121,77,0.74,2],[173,73,0.74,2],[125,142,0.75,3],[133,157,0.75,2],[136,150,0.75,3],[99,87,0.74,3],[88,100,0.74,2]];
const rootSpots3 = [[139,115,0.675,4],[16,127,0.75,9],[31,100,0.75,7],[1,140,0.75,4],[39,113,0.75,4],[105,120,0.74,3],[157,130,0.69,3],[142,47,0.75,3],[127,23,0.75,2],[176,67,0.75,3],[135,97,0.75,3],[105,87,0.75,3],[127,150,0.75,4],[136,157,0.75,3],[187,57,0.74,2],[105,103,0.75,2],[164,87,0.75,2]];
const rootSpots4 = [[89,77,0.67,6],[156,63,0.665,3],[37,100,0.68,5],[11,143,0.74,4],[104,123,0.72,3],[178,43,0.68,4],[74,100,0.675,5],[137,83,0.75,3],[137,97,0.75,3],[126,67,0.75,2],[178,67,0.75,2],[133,150,0.75,3],[137,158,0.75,2],[122,22,0.75,2],[163,87,0.74,2],[11,140,0.75,3],[22,127,0.74,2]];

const titles = ["(a) Precipitation (mm/day)", null, "(c) ET (mm/day)", "(d) Surface wetness", "(e) Root zone wetness"];

const rows = [
  { grids: [precip1, precip2, precip3, precip4], spots: [precipSpots1, precipSpots2, precipSpots3, precipSpots4], ticks: precipTicks, colors: precipColors, smooth: 1.6, top: 75, titleY: 32, bar: [45, 109, 1055, 1118, 282, 308] },
  { grids: [tsim1, tsim2, tsim3, tsim4], spots: [[], tsimSpots2, [], []], ticks: tsimTicks, colors: tsimColors, smooth: 1.6, top: 421, titleY: 369, bar: [23, 88, 1076, 1139, 630, 656] },
  { grids: [et1, et2, et3, et4], spots: [[], [], [], []], ticks: etTicks, colors: etColors, smooth: 1.6, top: 756, titleY: 714, bar: [44, 115, 1048, 1118, 968, 994] },
  { grids: [surf1, surf2, surf3, surf4], spots: [surfSpots1, surfSpots2, surfSpots3, surfSpots4], ticks: wetTicks, colors: wetColors, smooth: 1, top: 1093, titleY: 1051, bar: [101, 182, 982, 1063, 1304, 1330] },
  { grids: [root1, root2, root3, root4], spots: [rootSpots1, rootSpots2, rootSpots3, rootSpots4], ticks: wetTicks, colors: wetColors, smooth: 1, top: 1433, titleY: 1393, bar: [101, 182, 982, 1063, 1645, 1671] }
];
const panelLefts = [10, 320, 630, 939];
const gridW = 22, gridH = 17, upscale = 5;

const svg = d3.select("#chart");
const defs = svg.append("defs");
defs.append("filter").attr("id", "soft").append("feGaussianBlur").attr("stdDeviation", 0.6);

// Rows only hold the cells inside the basin, the rest is padded from the row ends.
// Cells are repeated and blurred so the contours come out round, then the patches go on top.
function fieldFromGrid(grid, spots, smooth) {
  const width = gridW * upscale, height = gridH * upscale;
  const data = [];
  for (let j = 0; j < height; j++) {
    const r = Math.floor(j / upscale), row = grid[r];
    for (let k = 0; k < width; k++) {
      const c = Math.floor(k / upscale);
      data.push(row[Math.max(0, Math.min(row.length - 1, c - rowStart[r]))]);
    }
  }
  const field = d3.blur2({ data, width, height }, smooth);
  const unit = upscale / 10;
  spots.forEach(([sx, sy, v, sr]) => {
    const cx = (sx + 5) * unit, cy = (sy + 5) * unit, rad = sr * unit;
    for (let j = Math.max(0, Math.floor(cy - rad)); j <= Math.min(height - 1, Math.ceil(cy + rad)); j++) {
      for (let k = Math.max(0, Math.floor(cx - rad)); k <= Math.min(width - 1, Math.ceil(cx + rad)); k++) {
        if (Math.hypot(k + 0.5 - cx, j + 0.5 - cy) <= rad + 0.3) field.data[j * width + k] = v;
      }
    }
  });
  return d3.blur2(field, 0.3);
}

function drawMap(grid, spots, left, top, row, id) {
  const { ticks, colors } = row;
  const x = d3.scaleLinear().domain([0, 212]).range([left, left + 212]);
  const y = d3.scaleLinear().domain([0, 160]).range([top, top + 160]);
  const color = d3.scaleThreshold().domain(ticks).range(colors);
  const line = d3.line().x(d => x(d[0])).y(d => y(d[1]));

  defs.append("clipPath").attr("id", id).append("path").attr("d", line(basinOutline) + "Z");

  const g = svg.append("g").attr("filter", "url(#soft)").append("g").attr("clip-path", `url(#${id})`);
  const path = d3.geoPath(d3.geoTransform({
    point(cx, cy) { this.stream.point(x((cx / upscale - 0.5) * 10), y((cy / upscale - 0.5) * 10)); }
  }));

  g.append("rect")
    .attr("x", x(-5)).attr("y", y(-5))
    .attr("width", x(220) - x(-5)).attr("height", y(170) - y(-5))
    .attr("fill", colors[0]);

  const field = fieldFromGrid(grid, spots, row.smooth);
  const contours = d3.contours().size([field.width, field.height]).thresholds(ticks)(Array.from(field.data));
  g.selectAll("path.band")
    .data(contours)
    .enter().append("path")
    .attr("class", "band")
    .attr("d", path)
    .attr("fill", d => color(d.value));
}

function drawBar(row) {
  const [tipL, x0, x1, tipR, top, bottom] = row.bar;
  const ticks = row.ticks;
  const x = d3.scaleLinear().domain([ticks[0], ticks[ticks.length - 1]]).range([x0, x1]);
  const g = svg.append("g");
  const mid = (top + bottom) / 2;

  g.append("rect").attr("x", tipL).attr("y", top - 4).attr("width", tipR - tipL).attr("height", bottom - top + 32).attr("fill", "#fdfdfd");

  const tri = d3.line();
  g.append("path").attr("d", tri([[x0, top], [tipL, mid], [x0, bottom]]) + "Z")
    .attr("fill", row.colors[0]).attr("stroke", "#222").attr("stroke-width", 1);
  g.append("path").attr("d", tri([[x1, top], [tipR, mid], [x1, bottom]]) + "Z")
    .attr("fill", row.colors[row.colors.length - 1]).attr("stroke", "#222").attr("stroke-width", 1);

  g.selectAll("rect.cell")
    .data(d3.pairs(ticks))
    .enter().append("rect")
    .attr("class", "cell")
    .attr("x", d => x(d[0]))
    .attr("y", top)
    .attr("width", d => x(d[1]) - x(d[0]))
    .attr("height", bottom - top)
    .attr("fill", (d, i) => row.colors[i + 1])
    .attr("stroke", "#222")
    .attr("stroke-width", 1.2);

  const axis = g.append("g")
    .attr("class", "bar-axis")
    .attr("transform", `translate(0,${bottom})`)
    .call(d3.axisBottom(x).tickValues(ticks).tickSize(0).tickPadding(6).tickFormat(d => String(d)));
  axis.select(".domain").remove();
}

rows.forEach((row, r) => {
  row.grids.forEach((grid, p) => {
    drawMap(grid, row.spots[p], panelLefts[p], row.top, row, `basin-${r}-${p}`);
  });
  drawBar(row);

  const title = svg.append("text").attr("class", "title").attr("x", 581).attr("y", row.titleY);
  if (titles[r]) {
    title.text(titles[r]);
  } else {
    title.append("tspan").text("(b) Mean ");
    title.append("tspan").attr("font-style", "italic").text("T");
    title.append("tspan").attr("font-style", "italic").attr("font-size", 18).attr("dy", 5).text("sim");
    title.append("tspan").attr("dy", -5).attr("dx", 7).text("(K)");
  }
});
</script>
</body>
</html>
